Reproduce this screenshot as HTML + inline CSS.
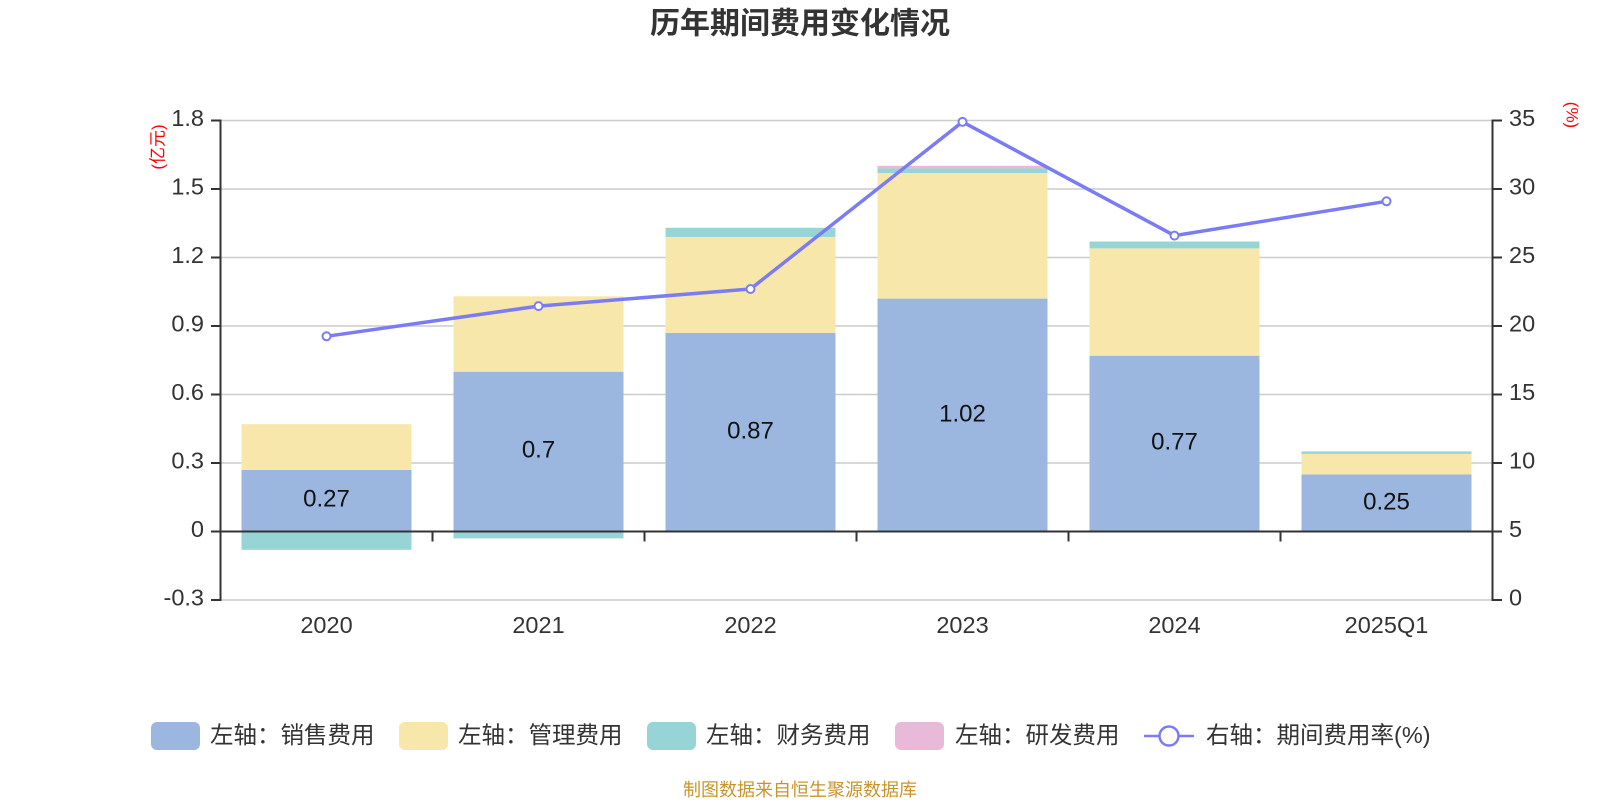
<!DOCTYPE html>
<html><head><meta charset="utf-8"><style>
html,body{margin:0;padding:0;background:#fff;}
svg{display:block;}
text{font-family:"Liberation Sans","Noto Sans CJK SC",sans-serif;}
</style></head><body>
<svg width="1600" height="800" viewBox="0 0 1600 800" xmlns="http://www.w3.org/2000/svg">
<rect width="1600" height="800" fill="#fff"/>
<text x="800" y="24" text-anchor="middle" dominant-baseline="central" font-size="30" font-weight="bold" fill="#333">历年期间费用变化情况</text>

<!-- gridlines -->
<g stroke="#cccccc" stroke-width="1.5">
<line x1="220.5" x2="1492.5" y1="120.5" y2="120.5"/>
<line x1="220.5" x2="1492.5" y1="189" y2="189"/>
<line x1="220.5" x2="1492.5" y1="257.5" y2="257.5"/>
<line x1="220.5" x2="1492.5" y1="326" y2="326"/>
<line x1="220.5" x2="1492.5" y1="394.5" y2="394.5"/>
<line x1="220.5" x2="1492.5" y1="463" y2="463"/>
<line x1="220.5" x2="1492.5" y1="600" y2="600"/>
</g>

<!-- bars -->
<g>
<rect x="241.5" y="469.85" width="170" height="61.65" fill="#9bb7e0"/>
<rect x="241.5" y="424.2" width="170" height="45.65" fill="#f8e7aa"/>
<rect x="241.5" y="531.5" width="170" height="18.3" fill="#97d4d5"/>
<rect x="453.5" y="371.7" width="170" height="159.8" fill="#9bb7e0"/>
<rect x="453.5" y="296.3" width="170" height="75.4" fill="#f8e7aa"/>
<rect x="453.5" y="531.5" width="170" height="6.9" fill="#97d4d5"/>
<rect x="665.5" y="332.85" width="170" height="198.65" fill="#9bb7e0"/>
<rect x="665.5" y="236.95" width="170" height="95.9" fill="#f8e7aa"/>
<rect x="665.5" y="227.8" width="170" height="9.15" fill="#97d4d5"/>
<rect x="877.5" y="298.6" width="170" height="232.9" fill="#9bb7e0"/>
<rect x="877.5" y="173" width="170" height="125.6" fill="#f8e7aa"/>
<rect x="877.5" y="168.4" width="170" height="4.6" fill="#97d4d5"/>
<rect x="877.5" y="165.8" width="170" height="2.6" fill="#e8b9d8"/>
<rect x="1089.5" y="355.7" width="170" height="175.8" fill="#9bb7e0"/>
<rect x="1089.5" y="248.4" width="170" height="107.3" fill="#f8e7aa"/>
<rect x="1089.5" y="241.5" width="170" height="6.9" fill="#97d4d5"/>
<rect x="1301.5" y="474.4" width="170" height="57.1" fill="#9bb7e0"/>
<rect x="1301.5" y="453.9" width="170" height="20.5" fill="#f8e7aa"/>
<rect x="1301.5" y="451.4" width="170" height="2.5" fill="#97d4d5"/>
</g>

<!-- bar labels -->
<g font-size="24" fill="#111" text-anchor="middle" dominant-baseline="central">
<text x="326.5" y="499">0.27</text>
<text x="538.5" y="450">0.7</text>
<text x="750.5" y="431">0.87</text>
<text x="962.5" y="414">1.02</text>
<text x="1174.5" y="442">0.77</text>
<text x="1386.5" y="502">0.25</text>
</g>

<!-- axes -->
<g stroke="#333" stroke-width="2">
<line x1="220.5" x2="1492.5" y1="531.5" y2="531.5"/>
<line x1="432.5" x2="432.5" y1="531.5" y2="541.5"/>
<line x1="644.5" x2="644.5" y1="531.5" y2="541.5"/>
<line x1="856.5" x2="856.5" y1="531.5" y2="541.5"/>
<line x1="1068.5" x2="1068.5" y1="531.5" y2="541.5"/>
<line x1="1280.5" x2="1280.5" y1="531.5" y2="541.5"/>
<line x1="220.5" x2="220.5" y1="119.5" y2="601"/>
<line x1="211" x2="220.5" y1="120.5" y2="120.5"/>
<line x1="211" x2="220.5" y1="189" y2="189"/>
<line x1="211" x2="220.5" y1="257.5" y2="257.5"/>
<line x1="211" x2="220.5" y1="326" y2="326"/>
<line x1="211" x2="220.5" y1="394.5" y2="394.5"/>
<line x1="211" x2="220.5" y1="463" y2="463"/>
<line x1="211" x2="220.5" y1="531.5" y2="531.5"/>
<line x1="211" x2="220.5" y1="600" y2="600"/>
<line x1="1492.5" x2="1492.5" y1="119.5" y2="601"/>
<line x1="1492.5" x2="1502" y1="120.5" y2="120.5"/>
<line x1="1492.5" x2="1502" y1="189" y2="189"/>
<line x1="1492.5" x2="1502" y1="257.5" y2="257.5"/>
<line x1="1492.5" x2="1502" y1="326" y2="326"/>
<line x1="1492.5" x2="1502" y1="394.5" y2="394.5"/>
<line x1="1492.5" x2="1502" y1="463" y2="463"/>
<line x1="1492.5" x2="1502" y1="531.5" y2="531.5"/>
<line x1="1492.5" x2="1502" y1="600" y2="600"/>
</g>

<g font-size="23.5" fill="#333" text-anchor="end" dominant-baseline="central">
<text x="204" y="118">1.8</text>
<text x="204" y="186.5">1.5</text>
<text x="204" y="255">1.2</text>
<text x="204" y="323.5">0.9</text>
<text x="204" y="392">0.6</text>
<text x="204" y="460.5">0.3</text>
<text x="204" y="529">0</text>
<text x="204" y="597.5">-0.3</text>
</g>
<g font-size="23.5" fill="#333" text-anchor="start" dominant-baseline="central">
<text x="1509" y="118">35</text>
<text x="1509" y="186.5">30</text>
<text x="1509" y="255">25</text>
<text x="1509" y="323.5">20</text>
<text x="1509" y="392">15</text>
<text x="1509" y="460.5">10</text>
<text x="1509" y="529">5</text>
<text x="1509" y="597.5">0</text>
</g>
<g font-size="23.5" fill="#333" text-anchor="middle" dominant-baseline="central">
<text x="326.5" y="625">2020</text>
<text x="538.5" y="625">2021</text>
<text x="750.5" y="625">2022</text>
<text x="962.5" y="625">2023</text>
<text x="1174.5" y="625">2024</text>
<text x="1386.5" y="625">2025Q1</text>
</g>

<text transform="translate(158,147) rotate(-90)" font-size="17" fill="#ff0000" text-anchor="middle" dominant-baseline="central">(亿元)</text>
<text transform="translate(1572,115) rotate(90)" font-size="17" fill="#ff0000" text-anchor="middle" dominant-baseline="central">(%)</text>

<polyline points="326.5,336.3 538.5,306.1 750.5,289 962.5,121.9 1174.5,235.6 1386.5,201.3" fill="none" stroke="#7b7cf4" stroke-width="3.5" stroke-linejoin="round"/>
<g fill="#fff" stroke="#7b7cf4" stroke-width="2">
<circle cx="326.5" cy="336.3" r="4"/>
<circle cx="538.5" cy="306.1" r="4"/>
<circle cx="750.5" cy="289" r="4"/>
<circle cx="962.5" cy="121.9" r="4"/>
<circle cx="1174.5" cy="235.6" r="4"/>
<circle cx="1386.5" cy="201.3" r="4"/>
</g>

<rect x="151" y="722" width="49" height="28" rx="6" fill="#9bb7e0"/>
<rect x="399" y="722" width="49" height="28" rx="6" fill="#f8e7aa"/>
<rect x="647" y="722" width="49" height="28" rx="6" fill="#97d4d5"/>
<rect x="895" y="722" width="49" height="28" rx="6" fill="#e8b9d8"/>
<line x1="1144" x2="1194" y1="736" y2="736" stroke="#7b7cf4" stroke-width="2.5"/>
<circle cx="1169" cy="736" r="9.5" fill="#fff" stroke="#7b7cf4" stroke-width="2.5"/>
<g font-size="23.5" fill="#333" dominant-baseline="central">
<text x="210" y="735">左轴：销售费用</text>
<text x="458" y="735">左轴：管理费用</text>
<text x="706" y="735">左轴：财务费用</text>
<text x="955" y="735">左轴：研发费用</text>
<text x="1206" y="735">右轴：期间费用率(%)</text>
</g>

<text x="800" y="790" text-anchor="middle" dominant-baseline="central" font-size="18" fill="#c8952c">制图数据来自恒生聚源数据库</text>
</svg>
</body></html>
